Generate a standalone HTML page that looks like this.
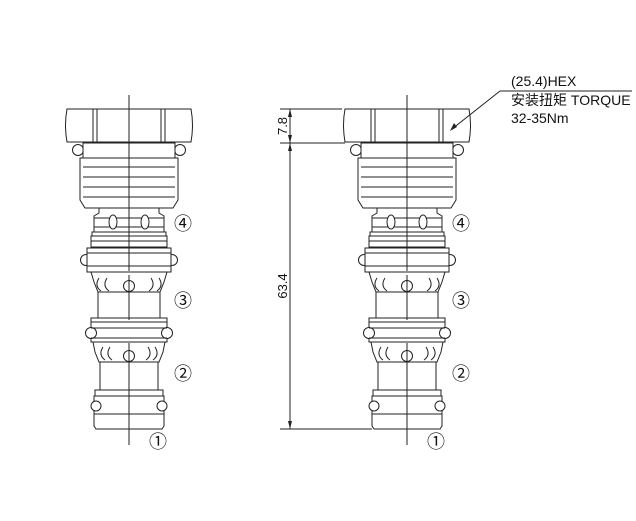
<!DOCTYPE html>
<html><head><style>
body{margin:0;background:#fff;}
svg{display:block;}
text{font-family:"Liberation Sans","Noto Sans CJK SC",sans-serif;fill:#111;}
</style></head><body>
<svg width="636" height="521" viewBox="0 0 636 521" xmlns="http://www.w3.org/2000/svg">
<defs>
<g id="v" fill="#fff" stroke="#222" stroke-width="1">
  <circle cx="-51" cy="150" r="5.5"/><circle cx="51" cy="150" r="5.5"/>
  <rect x="-46" y="143" width="92" height="15"/>
  <path d="M-62,109 Q-65,125 -62,142 L62,142 Q65,125 62,109 Z"/>
  <line x1="-36" y1="109" x2="-36" y2="142"/><line x1="-32" y1="109" x2="-32" y2="142"/>
  <line x1="32" y1="109" x2="32" y2="142"/><line x1="36" y1="109" x2="36" y2="142"/>
  <path d="M-49,158 L49,158 L49,200 L44,208 L-44,208 L-49,200 Z"/>
  <line x1="-46" y1="167" x2="46" y2="167"/><line x1="-46" y1="177" x2="46" y2="177"/>
  <line x1="-46" y1="187" x2="46" y2="187"/><line x1="-46" y1="197" x2="46" y2="197"/>
  <path d="M-30,208 L30,208 L30,213 L35,216 L35,232 L-35,232 L-35,216 L-30,213 Z"/>
  <line x1="-35" y1="218" x2="35" y2="218"/><line x1="-35" y1="227" x2="35" y2="227"/>
  <ellipse cx="-16" cy="222" rx="4" ry="7"/><ellipse cx="16" cy="222" rx="4" ry="7"/>
  <rect x="-37" y="232" width="74" height="4"/>
  <rect x="-38" y="236" width="76" height="11"/>
  <line x1="-38" y1="241" x2="38" y2="241"/>
  <circle cx="-43" cy="260" r="5.5"/><circle cx="43" cy="260" r="5.5"/>
  <rect x="-42" y="248" width="84" height="24"/>
  <line x1="-42" y1="253" x2="42" y2="253"/><line x1="-42" y1="266" x2="42" y2="266"/>
  <path d="M-38,272 L38,272 L35,282 L31,292 L-31,292 L-35,282 Z"/>
  <path d="M-30,278 q-5,8 2,13" fill="none"/><path d="M-22,278 q-5,8 2,13" fill="none"/>
  <path d="M30,278 q5,8 -2,13" fill="none"/><path d="M22,278 q5,8 -2,13" fill="none"/>
  <circle cx="0" cy="286" r="5.5"/>
  <rect x="-31" y="292" width="62" height="26"/>
  <rect x="-38" y="318" width="76" height="4"/>
  <rect x="-38" y="322" width="76" height="20"/>
  <circle cx="-38" cy="333" r="5.5"/><circle cx="38" cy="333" r="5.5"/>
  <line x1="-38" y1="328" x2="38" y2="328"/><line x1="-38" y1="338" x2="38" y2="338"/>
  <path d="M-36,342 L36,342 L34,352 L30,362 L-30,362 L-34,352 Z"/>
  <path d="M-26,347 q-5,8 2,13" fill="none"/><path d="M-19,347 q-5,8 2,13" fill="none"/>
  <path d="M26,347 q5,8 -2,13" fill="none"/><path d="M19,347 q5,8 -2,13" fill="none"/>
  <circle cx="0" cy="356" r="5.5"/>
  <rect x="-29" y="362" width="58" height="28"/>
  <rect x="-34" y="390" width="68" height="6"/>
  <rect x="-35" y="396" width="70" height="18"/>
  <circle cx="-33" cy="406" r="5"/><circle cx="33" cy="406" r="5"/>
  <path d="M-35,414 L35,414 L35,426 L33,429 L-33,429 L-35,426 Z"/>
  <line x1="0" y1="95" x2="0" y2="271" fill="none"/>
  <line x1="0" y1="275" x2="0" y2="320" fill="none"/>
  <line x1="0" y1="343" x2="0" y2="445" fill="none"/>
</g>
</defs>
<use href="#v" transform="translate(129,0)"/>
<use href="#v" transform="translate(407,0)"/>
<g font-size="18">
<text x="183" y="230" text-anchor="middle">④</text>
<text x="183" y="307" text-anchor="middle">③</text>
<text x="183" y="380" text-anchor="middle">②</text>
<text x="158" y="448" text-anchor="middle">①</text>
<text x="461" y="230" text-anchor="middle">④</text>
<text x="461" y="307" text-anchor="middle">③</text>
<text x="461" y="380" text-anchor="middle">②</text>
<text x="436" y="448" text-anchor="middle">①</text>
</g>
<g stroke="#222" stroke-width="1" fill="none">
  <line x1="280" y1="109" x2="342" y2="109"/>
  <line x1="280" y1="143" x2="345" y2="143"/>
  <line x1="280" y1="429" x2="372" y2="429"/>
  <line x1="290" y1="109" x2="290" y2="429"/>
  <line x1="500" y1="91" x2="632" y2="91"/>
  <line x1="500" y1="91" x2="452" y2="129"/>
</g>
<g fill="#222">
  <path d="M290,109 l-2,8 h4z"/><path d="M290,143 l-2,-8 h4z"/>
  <path d="M290,143 l-2,8 h4z"/><path d="M290,429 l-2,-8 h4z"/>
  <path d="M450,131 l4,-8 l3,4z"/>
</g>
<text font-size="13" transform="translate(287,126) rotate(-90)" text-anchor="middle">7.8</text>
<text font-size="13" transform="translate(287,286) rotate(-90)" text-anchor="middle">63.4</text>
<text x="511" y="86" font-size="14">(25.4)HEX</text>
<text x="511" y="105" font-size="14">安装扭矩 TORQUE</text>
<text x="511" y="123" font-size="14">32-35Nm</text>
</svg>
</body></html>
